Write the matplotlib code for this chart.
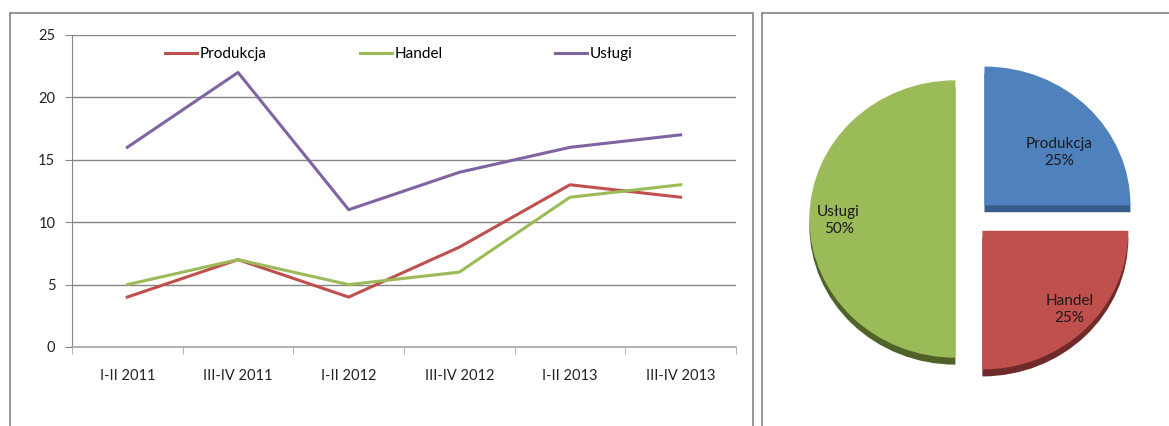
import numpy as np
import matplotlib
matplotlib.use('Agg')
import matplotlib.pyplot as plt
from matplotlib.patches import Rectangle
from matplotlib.lines import Line2D
from matplotlib.legend import Legend

plt.rcParams['font.family'] = ['Lato', 'DejaVu Sans']

# data
periods = ['I-II 2011', 'III-IV 2011', 'I-II 2012', 'III-IV 2012', 'I-II 2013', 'III-IV 2013']
produkcja = [4, 7, 4, 8, 13, 12]
handel = [5, 7, 5, 6, 12, 13]
uslugi = [16, 22, 11, 14, 16, 17]

pie_labels = ['Produkcja', 'Handel', 'Usługi']
pie_shares = [25, 25, 50]

W, H = 1169, 426
fig = plt.figure(figsize=(W / 100, H / 100), dpi=100)

def px(x0, y0, x1, y1):
    # pixel box -> figure fraction rect
    return [x0 / W, 1 - y1 / H, (x1 - x0) / W, (y1 - y0) / H]

# frames around both charts
frame_col = '#8c8c8c'
fig.add_artist(Rectangle((10 / W, -0.1), (753 - 10) / W, 1.1 - 13 / H,
                         transform=fig.transFigure, fill=False,
                         edgecolor=frame_col, lw=1.3))
fig.add_artist(Rectangle((762 / W, -0.1), 0.5, 1.1 - 13 / H,
                         transform=fig.transFigure, fill=False,
                         edgecolor=frame_col, lw=1.3))

# ---- line chart
ax = fig.add_axes(px(72, 35, 736, 347))
x = np.arange(len(periods))
series = [('Produkcja', produkcja, '#C0504D'),
          ('Handel', handel, '#9BBB59'),
          ('Usługi', uslugi, '#8064A2')]
for name, vals, col in series:
    ax.plot(x, vals, color=col, lw=2.2, label=name)

ax.set_xlim(-0.5, len(periods) - 0.5)
ax.set_ylim(0, 25)
ax.set_yticks(range(0, 26, 5))
ax.set_xticks(x)
ax.set_xticklabels(periods)
ax.set_xticks(np.arange(-0.5, len(periods), 1), minor=True)
ax.tick_params(axis='x', which='major', length=0, pad=16, labelsize=10.5, labelcolor='#222222')
ax.tick_params(axis='x', which='minor', length=5, color='#a6a6a6', direction='out')
ax.tick_params(axis='y', length=5, color='#868686', pad=7, labelsize=10.5, labelcolor='#222222')
ax.yaxis.grid(True, color='#868686', lw=1)
ax.set_axisbelow(True)
for s in ['top', 'right']:
    ax.spines[s].set_visible(False)
ax.spines['left'].set_color('#868686')
ax.spines['bottom'].set_color('#a6a6a6')
ax.spines['bottom'].set_linewidth(1.2)

# legend entries evenly spaced like Excel
for i, (name, vals, col) in enumerate(series):
    leg = Legend(ax, [Line2D([], [], color=col, lw=2.2)], [name],
                 loc='center left', bbox_to_anchor=(0.14 + i * 0.2935, 0.939),
                 frameon=False, fontsize=11, handlelength=2.1, handletextpad=0.2,
                 borderpad=0, borderaxespad=0)
    ax.add_artist(leg)

# ---- pie chart
cx, cy, r_px = 970, 219, 146
yscale = 0.95
pax = fig.add_axes(px(770, 20, 1160, 416))
pax.axis('off')

pie_colors = ['#4F81BD', '#C0504D', '#9BBB59']
shadow_colors = ['#385D8A', '#6E2B29', '#4F6228']
explode = [0.14, 0.12, 0.1]

pax.pie(pie_shares, colors=shadow_colors, startangle=90, counterclock=False,
        explode=explode, center=(0, -0.05), radius=1.0,
        wedgeprops=dict(linewidth=0))
pax.pie(pie_shares, colors=pie_colors, startangle=90, counterclock=False,
        explode=explode, center=(0, 0), radius=1.0,
        wedgeprops=dict(linewidth=0))
pax.set_aspect(yscale)
pax.set_xlim((770 - cx) / r_px, (1160 - cx) / r_px)
pax.set_ylim((cy - 416) / (r_px * yscale), (cy - 20) / (r_px * yscale))

total = sum(pie_shares)
label_pos = [(0.61, 0.48), (0.68, -0.65), (-0.90, -0.01)]
for name, val, (lx, ly) in zip(pie_labels, pie_shares, label_pos):
    pax.text(lx, ly, f'{name}\n{val / total * 100:.0f}%', ha='center', va='center',
             fontsize=11, color='#1a1a1a', linespacing=1.3)

fig.savefig('out.png', dpi=100)
